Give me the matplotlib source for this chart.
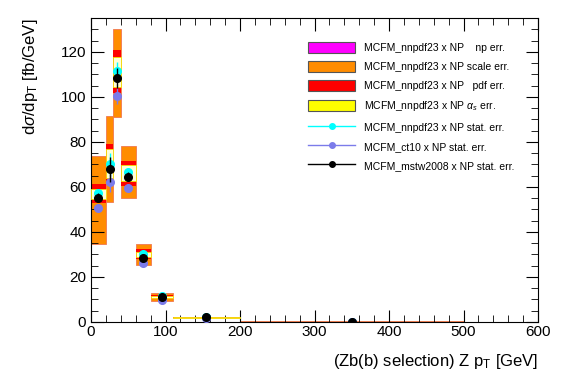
import matplotlib
matplotlib.use("Agg")
import matplotlib.pyplot as plt
import numpy as np
from matplotlib.patches import Patch
from matplotlib.lines import Line2D

plt.rcParams["font.family"] = ["Liberation Sans", "DejaVu Sans"]
plt.rcParams["mathtext.fontset"] = "custom"
plt.rcParams["mathtext.rm"] = "Liberation Sans"
plt.rcParams["mathtext.it"] = "Liberation Sans:italic"

# bin edges in Z pT [GeV]
bin_lo = [0, 20, 30, 40, 60, 80, 110, 200]
bin_hi = [20, 30, 40, 60, 80, 110, 200, 500]
x_pts = [10, 25, 35, 50, 70, 95, 155, 350]

# theory bands (nnpdf23 x NP)
scale_lo = [34.7, 53.3, 91.1, 55.2, 25.1, 9.2, 1.6, 0.05]
scale_hi = [73.8, 91.6, 130.2, 78.1, 34.7, 12.9, 2.3, 0.25]
pdf_lo = [52.7, 62.0, 101.7, 60.4, 28.0, 10.0, 1.8, 0.1]
pdf_hi = [61.2, 79.0, 120.8, 71.5, 32.2, 12.0, 2.1, 0.2]
as_lo = [54.5, 64.0, 104.2, 62.4, 29.0, 10.5, 1.95, 0.12]
as_hi = [59.2, 77.0, 117.6, 69.6, 31.0, 11.5, 2.0, 0.18]

# stat-error points
nnpdf = [57.1, 70.0, 111.6, 66.6, 30.4, 11.7, 2.1, 0.15]
nnpdf_err = [2.0, 5.0, 4.0, 2.0, 1.0, 0.4, 0.2, 0.05]
ct10 = [50.8, 62.3, 100.5, 59.7, 26.1, 9.6, 1.8, 0.12]
ct10_err = [1.8, 4.5, 3.5, 1.8, 0.9, 0.4, 0.2, 0.05]
mstw = [55.2, 67.8, 108.5, 64.4, 28.5, 11.1, 2.0, 0.15]
mstw_err = [2.0, 5.5, 4.5, 2.0, 1.0, 0.4, 0.2, 0.05]

lo = np.array(bin_lo, dtype=float)
w = np.array(bin_hi, dtype=float) - lo

c_orange = "#ff8c00"
c_red = "#ff0000"
c_yellow = "#ffff00"
c_magenta = "#ff00ff"
c_cyan = "#00ffff"
c_blue = "#7b7bea"

fig = plt.figure(figsize=(5.67, 3.84), dpi=100)
ax = fig.add_axes([0.1605, 0.1615, 0.7884, 0.7915])

ax.bar(lo, np.array(scale_hi) - scale_lo, width=w, bottom=scale_lo, align="edge",
       color=c_orange, edgecolor="#f07850", linewidth=0.6, zorder=1)
ax.bar(lo, np.array(pdf_hi) - pdf_lo, width=w, bottom=pdf_lo, align="edge",
       color=c_red, linewidth=0, zorder=2)
ax.bar(lo, np.array(as_hi) - as_lo, width=w, bottom=as_lo, align="edge",
       color="#ffffd8", edgecolor="#f5e000", linewidth=0.6, zorder=3)

ax.errorbar(x_pts, nnpdf, yerr=nnpdf_err, fmt="o", color=c_cyan, ms=5.5,
            elinewidth=1, capsize=0, zorder=4)
ax.errorbar(x_pts, ct10, yerr=ct10_err, fmt="o", color=c_blue, ms=5.5,
            elinewidth=1, capsize=0, zorder=5)
ax.errorbar(x_pts, mstw, yerr=mstw_err, fmt="o", color="black", ms=5.5,
            elinewidth=1, capsize=0, zorder=6)

ax.set_xlim(0, 600)
ax.set_ylim(0, 135)
ax.set_xticks(np.arange(0, 601, 100))
ax.set_xticks(np.arange(0, 601, 20), minor=True)
ax.set_yticks(np.arange(0, 121, 20))
ax.set_yticks(np.arange(0, 135, 5), minor=True)
ax.tick_params(which="both", direction="in", top=True, right=True, labelsize=11)
ax.tick_params(which="major", length=9)
ax.tick_params(which="minor", length=5)
ax.tick_params(axis="x", pad=2)
for s in ax.spines.values():
    s.set_linewidth(0.8)

ax.set_xlabel(r"(Zb(b) selection) Z p$_\mathregular{T}$ [GeV]", fontsize=12, loc="right")
ax.set_ylabel(r"d$\sigma$/dp$_\mathregular{T}$ [fb/GeV]", fontsize=12, loc="top")
ax.xaxis.set_label_coords(1.0, -0.10)
ax.yaxis.set_label_coords(-0.115, 1.0)

handles = [
    Patch(facecolor=c_magenta, edgecolor="#555555", linewidth=0.8),
    Patch(facecolor=c_orange, edgecolor="#555555", linewidth=0.8),
    Patch(facecolor=c_red, edgecolor="#555555", linewidth=0.8),
    Patch(facecolor=c_yellow, edgecolor="#555555", linewidth=0.8),
    Line2D([], [], color=c_cyan, marker="o", ms=4, lw=1),
    Line2D([], [], color=c_blue, marker="o", ms=4, lw=1),
    Line2D([], [], color="black", marker="o", ms=4, lw=1),
]
labels = [
    "MCFM_nnpdf23 x NP    np err.",
    "MCFM_nnpdf23 x NP scale err.",
    "MCFM_nnpdf23 x NP   pdf err.",
    r"MCFM_nnpdf23 x NP $\alpha_s$ err.",
    "MCFM_nnpdf23 x NP stat. err.",
    "MCFM_ct10 x NP stat. err.",
    "MCFM_mstw2008 x NP stat. err.",
]
ax.legend(handles, labels, loc="upper left", bbox_to_anchor=(0.477, 0.935),
          frameon=False, fontsize=7.5, handlelength=4.5, handleheight=1.25,
          handletextpad=0.85, labelspacing=0.78, borderaxespad=0)

fig.savefig("out.png", dpi=100)
